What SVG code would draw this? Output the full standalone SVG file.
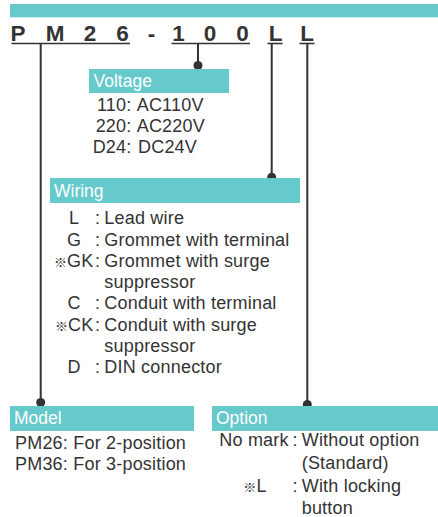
<svg xmlns="http://www.w3.org/2000/svg" width="438" height="517" viewBox="0 0 438 517">
<style>
.bar{fill:#66C9CB}
.t{font-family:"Liberation Sans","Noto Sans CJK JP",Arial,sans-serif;font-size:18px;fill:#333;letter-spacing:0.2px}
.h{font-family:"Liberation Sans",Arial,sans-serif;font-size:17.5px;fill:#fff}
.k{font-family:"Liberation Sans",Arial,sans-serif;font-size:22.5px;font-weight:bold;fill:#333;text-anchor:middle}
.ln{stroke:#333;stroke-width:2;fill:none}
.ul{stroke:#333;stroke-width:1.6}
.dot{fill:#333}
.m{text-anchor:middle}
.e{text-anchor:end}
.s{font-family:"Noto Sans CJK JP","DejaVu Sans",sans-serif;font-size:13px}
</style>
<rect class="bar" x="10" y="4" width="428" height="13.3"/>
<g id="code">
<text class="k" x="18" y="41">P</text>
<text class="k" x="55" y="41">M</text>
<text class="k" x="90" y="41">2</text>
<text class="k" x="122.5" y="41">6</text>
<text class="k" x="151.5" y="41">-</text>
<text class="k" x="178.5" y="41">1</text>
<text class="k" x="210" y="41">0</text>
<text class="k" x="242.5" y="41">0</text>
<text class="k" x="275.5" y="41">L</text>
<text class="k" x="307" y="41">L</text>
<line class="ul" x1="11.5" y1="43.5" x2="130" y2="43.5"/>
<line class="ul" x1="171.5" y1="43.5" x2="250" y2="43.5"/>
<line class="ul" x1="267.5" y1="43.5" x2="282.5" y2="43.5"/>
<line class="ul" x1="299.5" y1="43.5" x2="314.5" y2="43.5"/>
</g>
<g id="connectors">
<line class="ln" x1="40.7" y1="44" x2="40.7" y2="403"/>
<circle class="dot" cx="40.7" cy="402.5" r="4.5"/>
<line class="ln" x1="198" y1="44" x2="198" y2="65"/>
<circle class="dot" cx="198" cy="65.5" r="4.5"/>
<line class="ln" x1="271.7" y1="44" x2="271.7" y2="177"/>
<circle class="dot" cx="271.7" cy="177.3" r="4.5"/>
<line class="ln" x1="307.3" y1="44" x2="307.3" y2="404"/>
<circle class="dot" cx="307.3" cy="404.5" r="4.5"/>
</g>
<g id="voltage">
<rect class="bar" x="89" y="69" width="140" height="24"/>
<text class="h" x="93.5" y="86.5">Voltage</text>
<text class="t e" x="131.5" y="111">110:</text><text class="t" x="136.7" y="111">AC110V</text>
<text class="t e" x="131.5" y="132">220:</text><text class="t" x="136.7" y="132">AC220V</text>
<text class="t e" x="131.5" y="153">D24:</text><text class="t" x="138" y="153">DC24V</text>
</g>
<g id="wiring">
<rect class="bar" x="50" y="178" width="250" height="25"/>
<text class="h" x="54" y="196.5">Wiring</text>
<text class="t m" x="74" y="223.5">L</text><text class="t" x="95" y="223.5">:</text><text class="t" x="104.3" y="223.5">Lead wire</text>
<text class="t m" x="74" y="245.5">G</text><text class="t" x="95" y="245.5">:</text><text class="t" x="104.3" y="245.5">Grommet with terminal</text>
<text class="t e" x="93.5" y="266.5"><tspan class="s">※</tspan>GK</text><text class="t" x="95" y="266.5">:</text><text class="t" x="104.3" y="266.5">Grommet with surge</text>
<text class="t" x="104.3" y="288">suppressor</text>
<text class="t m" x="74" y="309.3">C</text><text class="t" x="95" y="309.3">:</text><text class="t" x="104.3" y="309.3">Conduit with terminal</text>
<text class="t e" x="93.5" y="330.7"><tspan class="s">※</tspan>CK</text><text class="t" x="95" y="330.7">:</text><text class="t" x="104.3" y="330.7">Conduit with surge</text>
<text class="t" x="104.3" y="351.7">suppressor</text>
<text class="t m" x="74" y="373.3">D</text><text class="t" x="95" y="373.3">:</text><text class="t" x="104.3" y="373.3">DIN connector</text>
</g>
<g id="model">
<rect class="bar" x="10" y="406" width="184" height="25"/>
<text class="h" x="14" y="424">Model</text>
<text class="t" x="15" y="448.5">PM26: For 2-position</text>
<text class="t" x="15" y="470">PM36: For 3-position</text>
</g>
<g id="option">
<rect class="bar" x="212" y="406" width="226" height="25"/>
<text class="h" x="216" y="424">Option</text>
<text class="t" x="219.3" y="446">No mark</text><text class="t" x="292.5" y="446">:</text><text class="t" x="301.7" y="446">Without option</text>
<text class="t" x="301.7" y="469">(Standard)</text>
<text class="t" x="243.3" y="492"><tspan class="s">※</tspan>L</text><text class="t" x="292.5" y="492">:</text><text class="t" x="301.7" y="492">With locking</text>
<text class="t" x="301.7" y="514">button</text>
</g>
</svg>
